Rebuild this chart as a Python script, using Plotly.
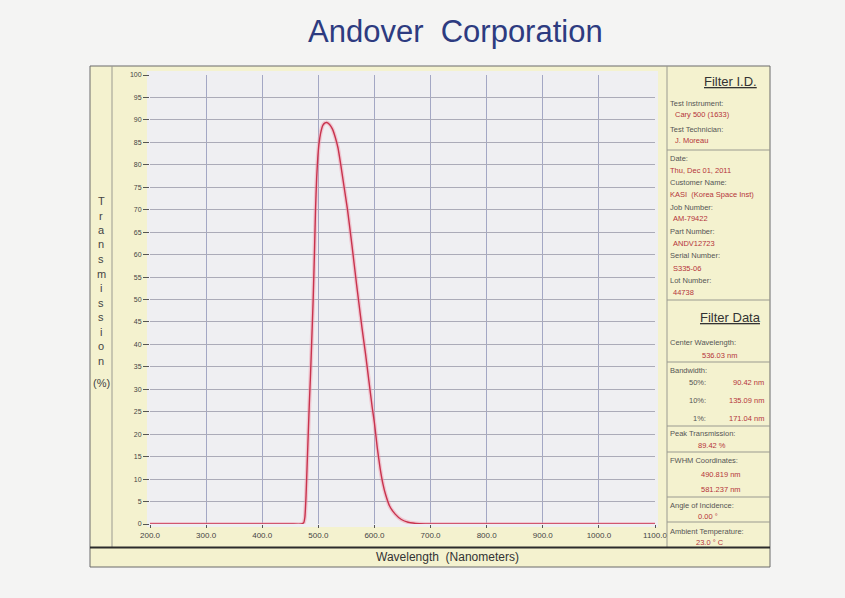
import plotly.graph_objects as go

# ---------------- data ----------------
wavelength_nm = [200, 300, 400, 450, 470, 474, 476, 478, 480, 482, 484, 486, 488, 490.8,
                 493, 495, 497, 499, 501, 504, 508, 512, 515, 520, 525, 530, 535, 540,
                 546, 552, 560, 568, 572, 578, 584, 590, 596, 600, 605, 610, 615,
                 620, 627, 637, 648, 660, 680, 700, 800, 900, 1000, 1100]
transmission_pct = [0, 0, 0, 0, 0, 0.3, 1.5, 6, 13, 20, 27, 33, 40, 50,
                    60, 70, 77, 81.5, 84.5, 87, 88.8, 89.35, 89.42, 89.0, 88.0, 86.2, 83.8, 80,
                    75, 70, 62, 53.5, 49.5, 43.5, 38, 32, 26, 22.5, 17, 12.5, 9,
                    6.5, 4, 2.2, 1, 0.4, 0.05, 0, 0, 0, 0, 0]

x_ticks = [200, 300, 400, 500, 600, 700, 800, 900, 1000, 1100]
x_tick_labels = ["200.0", "300.0", "400.0", "500.0", "600.0", "700.0", "800.0",
                 "900.0", "1000.0", "1100.0"]
y_ticks = list(range(0, 101, 5))
y_tick_labels = [str(v) for v in y_ticks]

filter_id = [  # (label, value)
    ("Test Instrument:", "Cary 500 (1633)"),
    ("Test Technician:", "J. Moreau"),
]
job_info = [
    ("Date:", "Thu, Dec 01, 2011"),
    ("Customer Name:", "KASI  (Korea Space Inst)"),
    ("Job Number:", "AM-79422"),
    ("Part Number:", "ANDV12723"),
    ("Serial Number:", "S335-06"),
    ("Lot Number:", "44738"),
]
bandwidth_rows = [("50%:", "90.42 nm"), ("10%:", "135.09 nm"), ("1%:", "171.04 nm")]

# ---------------- geometry helpers (pixels -> paper) ----------------
W, H = 845, 598
L, R, T, B = 150, 655, 75, 524


def px(x):
    return (x - L) / (R - L)


def py(y):
    return (B - y) / (B - T)


FONT = "Liberation Sans, Arial, sans-serif"
LBL = "#555555"
VAL = "#b5343a"
YELLOW = "#f4f2cf"
PAGE = "#f4f4f3"

fig = go.Figure()
fig.add_trace(go.Scatter(x=wavelength_nm, y=transmission_pct, mode="lines",
                         line=dict(color="rgba(240,150,170,0.45)", width=4, shape="spline", smoothing=0.5),
                         hoverinfo="skip", showlegend=False))
fig.add_trace(go.Scatter(x=wavelength_nm, y=transmission_pct, mode="lines",
                         line=dict(color="#c8334d", width=1.4, shape="spline", smoothing=0.5),
                         showlegend=False))

shapes = []


def rect(x0, y0, x1, y1, fill, line=None, lw=0):
    shapes.append(dict(type="rect", xref="paper", yref="paper", x0=px(x0), x1=px(x1),
                       y0=py(y1), y1=py(y0), fillcolor=fill, layer="below",
                       line=dict(color=line or fill, width=lw)))


def hline(x0, x1, y, color="#9a9a90", w=1, layer="above"):
    shapes.append(dict(type="line", xref="paper", yref="paper", x0=px(x0), x1=px(x1),
                       y0=py(y), y1=py(y), line=dict(color=color, width=w), layer=layer))


def vline(x, y0, y1, color="#9a9a90", w=1, layer="above"):
    shapes.append(dict(type="line", xref="paper", yref="paper", x0=px(x), x1=px(x),
                       y0=py(y0), y1=py(y1), line=dict(color=color, width=w), layer=layer))


rect(90, 66, 770, 567, YELLOW, "#6b6b6b", 1)
rect(147, 71, 658, 527, "#efeff2")
vline(112, 66, 547)
vline(667, 66, 547)
hline(90, 770, 547.5, "#2b2b2b", 2)
for yy in [150, 300, 362, 426, 452, 497, 522]:
    hline(667, 770, yy)

ann = []


def text(x, y, s, size=7.5, color=LBL, anchor="left", **kw):
    ann.append(dict(x=px(x), y=py(y), xref="paper", yref="paper", text=s, showarrow=False,
                    xanchor=anchor, yanchor="middle", font=dict(family=FONT, size=size, color=color),
                    **kw))


# title
text(455, 32, "Andover  Corporation", size=31, color="#2d3b80", anchor="center")
# axis titles
text(447, 557, "Wavelength  (Nanometers)", size=12, color="#333333", anchor="center")
letters = list("Transmission")
for i, ch in enumerate(letters):
    text(101, 201 + i * 14.5, ch, size=11, color="#444444", anchor="center")
text(101, 383, "(%)", size=11, color="#444444", anchor="center")

# right panel
text(730, 82, "<u>Filter I.D.</u>", size=13, color="#333333", anchor="center")
yy = 103
for lab, val in filter_id:
    text(668, yy, lab)
    text(673, yy + 11, val, color=VAL)
    yy += 26
yy = 158
for lab, val in job_info:
    text(668, yy, lab)
    text(668 if lab in ("Date:", "Customer Name:") else 671, yy + 12, val, color=VAL)
    yy += 24.5

text(730, 317, "<u>Filter Data</u>", size=13, color="#333333", anchor="center")
text(668, 342, "Center Wavelength:")
text(700, 355, "536.03 nm", color=VAL)
text(668, 370, "Bandwidth:")
for i, (lab, val) in enumerate(bandwidth_rows):
    text(708, 382 + i * 18, lab, anchor="right")
    text(766, 382 + i * 18, val, color=VAL, anchor="right")
text(668, 433, "Peak Transmission:")
text(696, 445, "89.42 %", color=VAL)
text(668, 460, "FWHM Coordinates:")
text(699, 474, "490.819 nm", color=VAL)
text(699, 489, "581.237 nm", color=VAL)
text(668, 505, "Angle of Incidence:")
text(696, 516, "0.00 °", color=VAL)
text(668, 531, "Ambient Temperature:")
text(694, 542, "23.0 ° C", color=VAL)

fig.update_layout(
    width=W, height=H, autosize=False,
    margin=dict(l=L, r=W - R, t=T, b=H - B, pad=0),
    paper_bgcolor=PAGE, plot_bgcolor="#efeff2",
    shapes=shapes, annotations=ann, showlegend=False,
    xaxis=dict(range=[200, 1100], tickvals=x_ticks, ticktext=x_tick_labels,
               showgrid=True, gridcolor="#a3a7c4", gridwidth=1, zeroline=False,
               showline=False, ticks="outside", ticklen=3, tickcolor="#555555",
               tickfont=dict(family=FONT, size=8, color="#444444")),
    yaxis=dict(range=[0, 100], tickvals=y_ticks, ticktext=y_tick_labels,
               showgrid=True, gridcolor="#ababb8", gridwidth=1, zeroline=False,
               showline=False, ticks="outside", ticklen=6, tickcolor="#555555",
               tickfont=dict(family=FONT, size=7, color="#444444")),
)

fig.write_html("out.html", config={"displayModeBar": False},
               post_script="document.body.style.margin='0';document.body.style.background='%s';" % PAGE)
